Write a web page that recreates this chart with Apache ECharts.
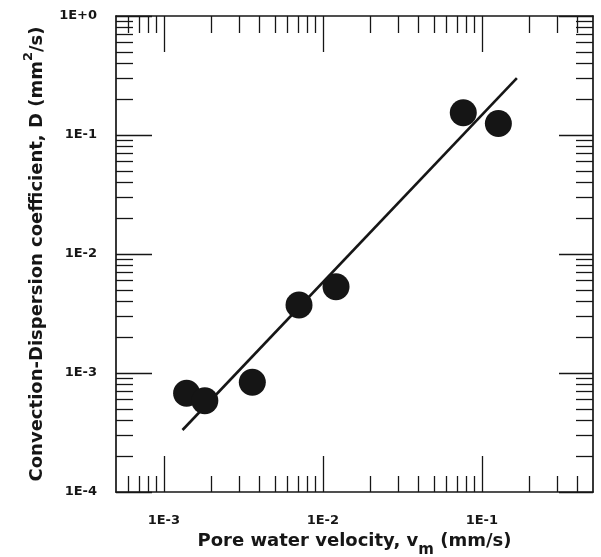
<!DOCTYPE html>
<html>
<head>
<meta charset="utf-8">
<title>Convection-Dispersion coefficient vs pore water velocity</title>
<script src="https://cdn.jsdelivr.net/npm/echarts@6/dist/echarts.min.js"></script>
<style>
  html, body { margin: 0; padding: 0; background: #ffffff; }
  #chart { width: 601px; height: 557px; }
</style>
</head>
<body>
<div id="chart"></div>
<script>
// Measured pore water velocity v_m (mm/s) and dispersion coefficient D (mm^2/s)
const velocity   = [1.39e-3, 1.81e-3, 3.60e-3, 7.08e-3, 1.21e-2, 7.64e-2, 1.27e-1];
const dispersion = [6.75e-4, 5.85e-4, 8.35e-4, 3.73e-3, 5.31e-3, 1.54e-1, 1.25e-1];

// Fitted power-law trend, start and end points
const fitVelocity   = [1.31e-3, 1.66e-1];
const fitDispersion = [3.32e-4, 3.00e-1];

// Axis extents and labelled decades
const xRange = [5e-4, 5e-1];
const yRange = [1e-4, 1];
const xDecades = [1e-4, 1e-3, 1e-2, 1e-1];
const yDecades = [1e-4, 1e-3, 1e-2, 1e-1];
const xMajorTicks = [1e-3, 1e-2, 1e-1];
const yMajorTicks = [1e-4, 1e-3, 1e-2, 1e-1, 1];
const minorSteps = [2, 3, 4, 5, 6, 7, 8, 9];

const ink = '#161616';
const labelFont = 'DejaVu Sans';

// Intermediate log ticks (2..9 within each decade) that fall inside the range
function minorTicks(decades, range) {
  const out = [];
  decades.forEach(d => minorSteps.forEach(m => {
    const v = d * m;
    if (v > range[0] * 1.0001 && v < range[1] * 0.9999) out.push(v);
  }));
  return out;
}

// 1E-3 style labels
function sciLabel(v) {
  const e = Math.round(Math.log10(v));
  return '1E' + (e >= 0 ? '+' : '-') + Math.abs(e);
}

const xMinor = minorTicks(xDecades, xRange);
const yMinor = minorTicks(yDecades, yRange);

function logAxis(position, range, ticks, tickLen, withLine, labels, extra) {
  return {
    type: 'log',
    logBase: 10,
    position: position,
    min: range[0],
    max: range[1],
    axisLine: { show: withLine, onZero: false, lineStyle: { color: ink, width: 1.7 } },
    axisTick: {
      show: true, inside: true, length: tickLen, customValues: ticks,
      lineStyle: { color: ink, width: 1.3 }
    },
    minorTick: { show: false },
    splitLine: { show: false },
    axisLabel: labels ? Object.assign({
      show: true, customValues: labels, formatter: sciLabel,
      color: ink, fontFamily: labelFont, fontWeight: 'bold', fontSize: 13
    }, extra || {}) : { show: false }
  };
}

const chart = echarts.init(document.getElementById('chart'), null, { renderer: 'canvas' });

const xBottom = logAxis('bottom', xRange, xMajorTicks, 36, true, xMajorTicks, { margin: 22 });
xBottom.name = '{t|Pore water velocity, v}{sub|m}{t| (mm/s)}';
xBottom.nameLocation = 'middle';
xBottom.nameGap = 32;
xBottom.nameMoveOverlap = false;
xBottom.nameTextStyle = {
  rich: {
    t: { fontFamily: labelFont, fontWeight: 'bold', fontSize: 18, color: ink, lineHeight: 34 },
    sub: { fontFamily: labelFont, fontWeight: 'bold', fontSize: 15, color: ink, lineHeight: 15, verticalAlign: 'bottom' }
  }
};

const yLeft = logAxis('left', yRange, yMajorTicks, 36, true, yMajorTicks, { margin: 19 });
yLeft.name = '{t|Convection-Dispersion coefficient, D (mm}{sup|2}{t|/s)}';
yLeft.nameLocation = 'middle';
yLeft.nameRotate = 90;
yLeft.nameGap = 64;
yLeft.nameMoveOverlap = false;
yLeft.nameTextStyle = {
  rich: {
    t: { fontFamily: labelFont, fontWeight: 'bold', fontSize: 18, color: ink, lineHeight: 30 },
    sup: { fontFamily: labelFont, fontWeight: 'bold', fontSize: 13, color: ink, lineHeight: 13, verticalAlign: 'top' }
  }
};

chart.setOption({
  animation: false,
  backgroundColor: '#ffffff',
  grid: { left: 116, right: 8, top: 16, bottom: 65, containLabel: false, outerBoundsMode: 'none' },
  xAxis: [
    xBottom,
    logAxis('bottom', xRange, xMinor, 16, false, null),
    logAxis('top', xRange, xMajorTicks, 36, true, null),
    logAxis('top', xRange, xMinor, 17, false, null)
  ],
  yAxis: [
    yLeft,
    logAxis('left', yRange, yMinor, 17, false, null),
    logAxis('right', yRange, yMajorTicks, 34, true, null),
    logAxis('right', yRange, yMinor, 17, false, null)
  ],
  series: [
    {
      name: 'Fit',
      type: 'line',
      xAxisIndex: 0,
      yAxisIndex: 0,
      data: fitVelocity.map((v, i) => [v, fitDispersion[i]]),
      showSymbol: false,
      symbol: 'none',
      lineStyle: { color: ink, width: 2.6 },
      z: 2
    },
    {
      name: 'Measured',
      type: 'scatter',
      xAxisIndex: 0,
      yAxisIndex: 0,
      data: velocity.map((v, i) => [v, dispersion[i]]),
      symbol: 'circle',
      symbolSize: 27,
      itemStyle: { color: '#151515', opacity: 1 },
      z: 3
    }
  ]
});
</script>
</body>
</html>
